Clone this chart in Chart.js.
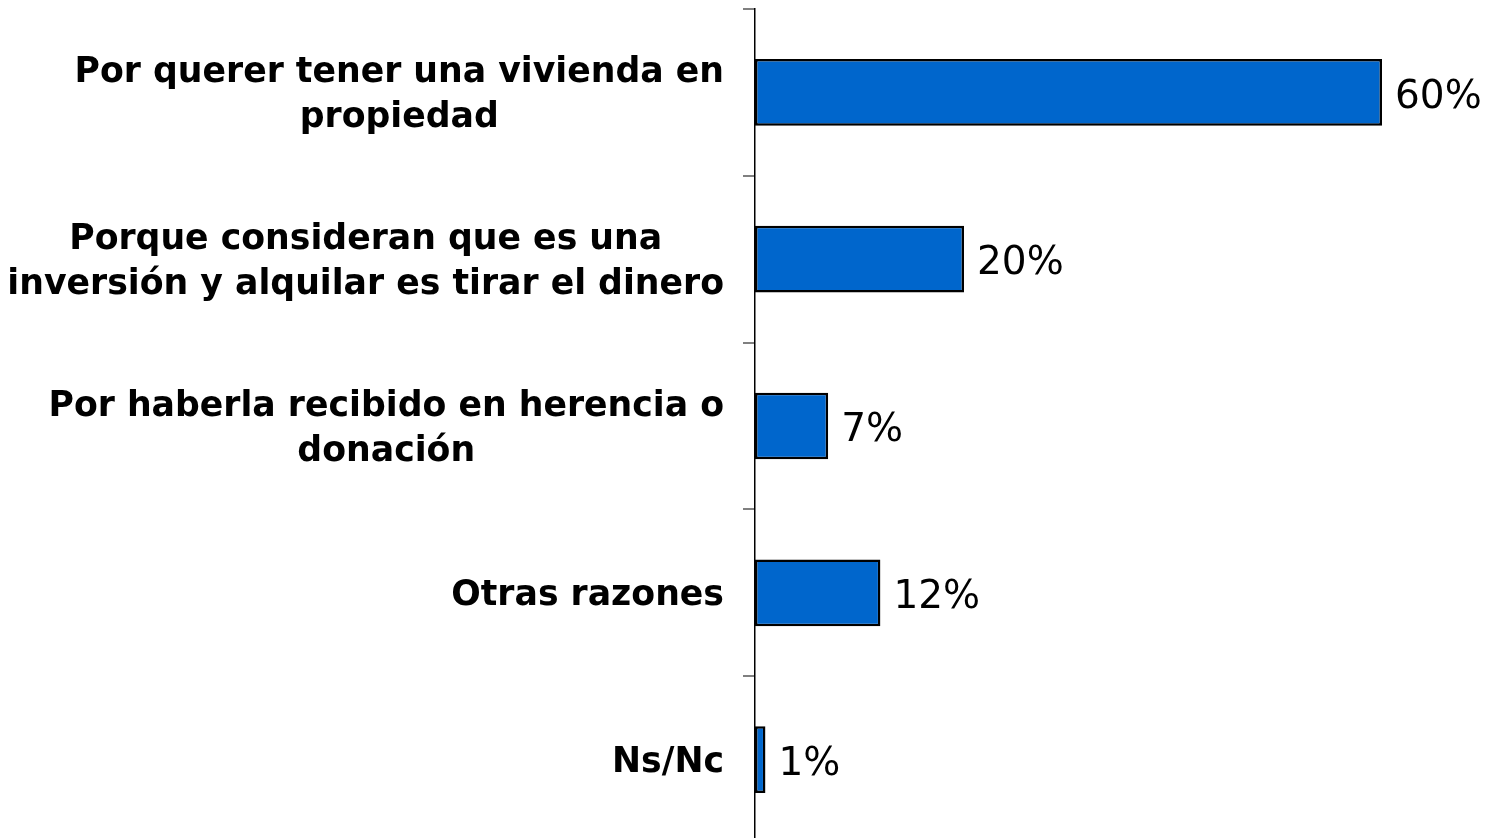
<!DOCTYPE html>
<html>
<head>
<meta charset="utf-8">
<script src="https://cdn.jsdelivr.net/npm/chart.js@4.4.1/dist/chart.umd.min.js"></script>
<style>
  html, body { margin: 0; padding: 0; background: #fff; overflow: hidden; }
  #wrap { width: 1490px; height: 845px; }
</style>
</head>
<body>
<div id="wrap"><canvas id="myChart" width="1490" height="845"></canvas></div>
<script>
// razones para comprar vivienda
const categorias = [
	['Por querer tener una vivienda en', 'propiedad'],
	['Porque consideran que es una', 'inversión y alquilar es tirar el dinero'],
	['Por haberla recibido en herencia o', 'donación'],
	'Otras razones',
	'Ns/Nc'
];
const valores = [60, 20, 7, 12, 1];
const etiquetas = ['60%', '20%', '7%', '12%', '1%'];

const barColor = '#0066CC';
const labelFont = 'bold 34.7px "DejaVu Sans"';
const lineGap = 45;

// pinta el % al final de cada barra
const valueLabels = {
	id: 'valueLabels',
	afterDatasetsDraw(chart) {
		const ctx = chart.ctx;
		const meta = chart.getDatasetMeta(0);
		ctx.save();
		ctx.font = '39px "DejaVu Sans"';
		ctx.fillStyle = '#000';
		ctx.textAlign = 'left';
		ctx.textBaseline = 'middle';
		meta.data.forEach((bar, i) => {
			ctx.fillText(etiquetas[i], bar.x + 13, bar.y + 5);
		});
		ctx.restore();
	}
};

// etiquetas del eje: bloque alineado a la derecha, lineas centradas
const categoryLabels = {
	id: 'categoryLabels',
	afterDraw(chart) {
		const ctx = chart.ctx;
		const scale = chart.scales.y;
		const xRight = scale.right - 12 - 19;
		ctx.save();
		ctx.font = labelFont;
		ctx.fillStyle = '#000';
		ctx.textAlign = 'center';
		ctx.textBaseline = 'middle';
		categorias.forEach((lab, i) => {
			const lines = Array.isArray(lab) ? lab : [lab];
			const w = Math.max(...lines.map(l => ctx.measureText(l).width));
			const cx = xRight - w / 2;
			const yc = scale.getPixelForTick(i);
			const y0 = yc - (lines.length - 1) * lineGap / 2;
			lines.forEach((l, j) => {
				ctx.fillText(l, cx, y0 + j * lineGap + 3);
			});
		});
		ctx.restore();
	}
};

let config = {
	type: 'bar',
	data: {
		labels: categorias,
		datasets: [{
			data: valores,
			backgroundColor: barColor,
			borderColor: '#000',
			borderWidth: 2.5,
			borderSkipped: false,
			barPercentage: 0.4,
			categoryPercentage: 1.0
		}]
	},
	options: {
		indexAxis: 'y',
		responsive: false,
		animation: false,
		layout: {
			padding: { top: 9, right: 3.5, bottom: 2, left: 0 }
		},
		plugins: {
			legend: { display: false },
			tooltip: { enabled: false }
		},
		scales: {
			x: {
				display: false,
				min: 0,
				max: 70
			},
			y: {
				afterFit(scale) {
					scale.width = 755;
					scale.paddingTop = 0;
					scale.paddingBottom = 0;
				},
				grid: {
					drawOnChartArea: false,
					tickLength: 12,
					color: '#808080',
					lineWidth: 2
				},
				border: { color: '#000', width: 1.5 },
				ticks: { display: false }
			}
		}
	},
	plugins: [valueLabels, categoryLabels]
};

let myChart = new Chart(document.getElementById('myChart'), config);
</script>
</body>
</html>
